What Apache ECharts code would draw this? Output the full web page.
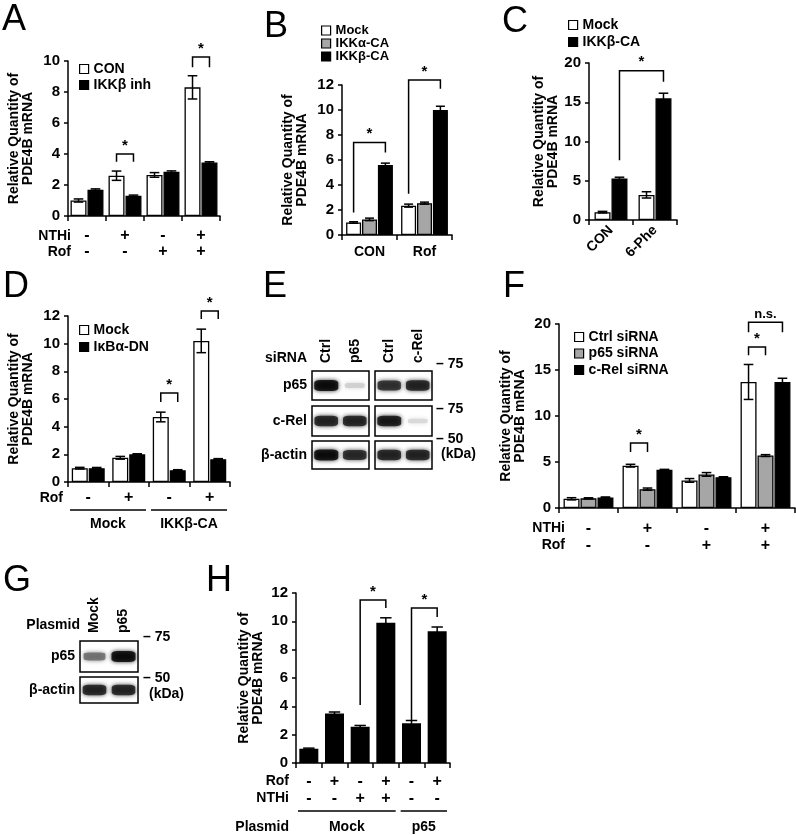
<!DOCTYPE html>
<html><head><meta charset="utf-8">
<script src="https://cdn.jsdelivr.net/npm/echarts@6/dist/echarts.min.js"></script>
<style>html,body{margin:0;padding:0;background:#fff}#c{width:796px;height:835px}</style>
</head><body><div id="c"></div>
<script>
const FONT = '"Liberation Sans", Arial, Helvetica, sans-serif';
const YNAME = 'Relative Quantity of\nPDE4B mRNA';

// ---------- Panel A ----------
const aCats = ['1', '2', '3', '4'];
const aNTHi = ['-', '+', '-', '+'];
const aRof = ['-', '-', '+', '+'];
const aTicks = [0, 2, 4, 6, 8, 10];
const aCON = [1.0, 2.6, 2.65, 8.3];
const aCONErr = [0.1, 0.3, 0.15, 0.75];
const aInh = [1.7, 1.3, 2.85, 3.45];
const aInhErr = [0.05, 0.05, 0.06, 0.05];
const aSig = [[1, 0, 1, 1, 3.5, 3.5, 4.0], [3, 0, 3, 1, 9.6, 9.6, 10.26]];
const aSigLabels = ['*', '*'];

// ---------- Panel B ----------
const bCats = ['CON', 'Rof'];
const bTicks = [0, 2, 4, 6, 8, 10, 12];
const bMock = [1.0, 2.35];
const bMockErr = [0.06, 0.12];
const bIKKa = [1.25, 2.55];
const bIKKaErr = [0.1, 0.08];
const bIKKb = [5.6, 10.0];
const bIKKbErr = [0.15, 0.3];
const bSig = [[0, 0, 0, 2, 1.8, 6.6, 7.4], [1, 0, 1, 2, 3.3, 11.7, 12.4]];
const bSigLabels = ['*', '*'];

// ---------- Panel C ----------
const cCats = ['CON', '6-Phe'];
const cTicks = [0, 5, 10, 15, 20];
const cMock = [1.0, 3.2];
const cMockErr = [0.1, 0.4];
const cIKKb = [5.3, 15.5];
const cIKKbErr = [0.15, 0.65];
const cSig = [[0, 1, 1, 1, 7.6, 17.6, 19.0]];
const cSigLabels = ['*'];

// ---------- Panel D ----------
const dCats = ['1', '2', '3', '4'];
const dRof = ['-', '+', '-', '+'];
const dTicks = [0, 2, 4, 6, 8, 10, 12];
const dMock = [1.0, 1.75, 4.7, 10.2];
const dMockErr = [0.06, 0.1, 0.35, 0.85];
const dDN = [1.0, 2.0, 0.85, 1.65];
const dDNErr = [0.05, 0.04, 0.04, 0.04];
const dGroups = [[0, 1], [2, 3]];
const dGroupLabels = ['Mock', 'IKKβ-CA'];
const dSig = [[2, 0, 2, 1, 5.78, 5.78, 6.43], [3, 0, 3, 1, 11.78, 11.78, 12.36]];
const dSigLabels = ['*', '*'];

// ---------- Panel F ----------
const fCats = ['1', '2', '3', '4'];
const fNTHi = ['-', '+', '-', '+'];
const fRof = ['-', '-', '+', '+'];
const fTicks = [0, 5, 10, 15, 20];
const fCtrl = [1.0, 4.6, 3.0, 13.7];
const fCtrlErr = [0.12, 0.15, 0.2, 1.9];
const fP65 = [1.05, 2.05, 3.65, 5.7];
const fP65Err = [0.06, 0.12, 0.2, 0.1];
const fCRel = [1.15, 4.15, 3.35, 13.7];
const fCRelErr = [0.05, 0.05, 0.05, 0.4];
const fSig = [[1, 0, 1, 1, 6.1, 6.1, 7.07], [3, 0, 3, 1, 16.6, 16.6, 17.5], [3, 0, 3, 2, 19.1, 19.1, 20.2]];
const fSigLabels = ['*', '*', 'n.s.'];

// ---------- Panel H ----------
const hCats = ['1', '2', '3', '4', '5', '6'];
const hRof = ['-', '+', '-', '+', '-', '+'];
const hNTHi = ['-', '-', '+', '+', '-', '-'];
const hTicks = [0, 2, 4, 6, 8, 10, 12];
const hVals = [1.0, 3.5, 2.55, 9.9, 2.8, 9.3];
const hErr = [0.05, 0.1, 0.1, 0.35, 0.2, 0.3];
const hGroups = [[0, 3], [4, 5]];
const hGroupLabels = ['Mock', 'p65'];
const hSig = [[2, 0, 3, 0, 4.1, 10.94, 11.5], [4, 0, 5, 0, 3.0, 10.3, 10.94]];
const hSigLabels = ['*', '*'];

// ---------- Blots ----------
const eLanes = ['Ctrl', 'p65', 'Ctrl', 'c-Rel'];
const eRows = ['p65', 'c-Rel', 'β-actin'];
const eBands = [[1.0, 0.12, 0.85, 0.9], [0.9, 0.9, 0.95, 0.08], [1.0, 0.88, 0.9, 0.9]];
const gLanes = ['Mock', 'p65'];
const gRows = ['p65', 'β-actin'];
const gBands = [[0.55, 1.0], [0.9, 0.9]];

const WHITE = '#ffffff', GRAY = '#a6a6a6', BLACK = '#000000';

const option = {
  animation: false, backgroundColor: '#fff',
  textStyle: { fontFamily: FONT },
  grid: [], xAxis: [], yAxis: [], series: [], legend: [], graphic: []
};

function boldText(size) { return { color: '#000', fontFamily: FONT, fontWeight: 'bold', fontSize: size }; }

function offFn(n, bw, gap) { return i => (i - (n - 1) / 2) * (bw + gap); }

function errRender(i, n, bw, gap) {
  const off = offFn(n, bw, gap)(i);
  return (params, api) => {
    const cat = api.value(0), v = api.value(1), e = api.value(2);
    const x = api.coord([cat, v])[0] + off;
    const yh = api.coord([cat, v + e])[1], yl = api.coord([cat, v - e])[1];
    const hw = bw * 0.3;
    const st = () => ({ stroke: '#000', lineWidth: 1.5 });
    return { type: 'group', children: [
      { type: 'line', shape: { x1: x, y1: yh, x2: x, y2: yl }, style: st() },
      { type: 'line', shape: { x1: x - hw, y1: yh, x2: x + hw, y2: yh }, style: st() },
      { type: 'line', shape: { x1: x - hw, y1: yl, x2: x + hw, y2: yl }, style: st() }
    ] };
  };
}

function sigRender(labels, n, bw, gap) {
  const off = offFn(n, bw, gap);
  return (params, api) => {
    const xL = api.coord([api.value(0), 0])[0] + off(api.value(1));
    const xR = api.coord([api.value(2), 0])[0] + off(api.value(3));
    const yL = api.coord([0, api.value(4)])[1];
    const yR = api.coord([0, api.value(5)])[1];
    const yT = api.coord([0, api.value(6)])[1];
    const lab = labels[params.dataIndex];
    return { type: 'group', children: [
      { type: 'polyline', shape: { points: [[xL, yL], [xL, yT], [xR, yT], [xR, yR]] },
        style: { stroke: '#000', lineWidth: 1.5, fill: null } },
      { type: 'text', x: (xL + xR) / 2, y: yT - 1,
        style: { text: lab, fill: '#000', font: 'bold ' + (lab === '*' ? 15 : 13) + 'px ' + FONT,
          align: 'center', verticalAlign: 'bottom', textAlign: 'center', textVerticalAlign: 'bottom' } }
    ] };
  };
}

function groupRender(labels, lineOff, textOff) {
  return (params, api) => {
    const band = api.size([1, 0])[0];
    const x1 = api.coord([api.value(0), 0])[0] - band / 2 + 2;
    const x2 = api.coord([api.value(1), 0])[0] + band / 2 - 3;
    const y0 = api.coord([0, 0])[1];
    return { type: 'group', children: [
      { type: 'line', shape: { x1: x1, y1: y0 + lineOff, x2: x2, y2: y0 + lineOff }, style: { stroke: '#000', lineWidth: 1.5 } },
      { type: 'text', x: (x1 + x2) / 2, y: y0 + textOff,
        style: { text: labels[params.dataIndex], fill: '#000', font: 'bold 14px ' + FONT,
          align: 'center', verticalAlign: 'middle', textAlign: 'center', textVerticalAlign: 'middle' } }
    ] };
  };
}

function addBarPanel(p) {
  const gi = option.grid.length;
  option.grid.push({ left: p.left, top: p.top, width: p.width, height: p.height });
  option.xAxis.push({
    type: 'category', gridIndex: gi, data: p.cats,
    axisLine: { lineStyle: { color: '#000', width: 1.5 } },
    axisTick: { show: true, length: 5, lineStyle: { color: '#000', width: 1.5 } },
    axisLabel: p.xLabel || { show: false }, splitLine: { show: false }
  });
  const t = p.ticks;
  option.yAxis.push({
    type: 'value', gridIndex: gi, min: t[0], max: t[t.length - 1], interval: t[1] - t[0],
    name: YNAME, nameLocation: 'middle', nameRotate: 90, nameGap: p.nameGap,
    nameTextStyle: Object.assign(boldText(14), { lineHeight: 14 }),
    axisLine: { show: true, lineStyle: { color: '#000', width: 1.5 } },
    axisTick: { show: true, length: 4, lineStyle: { color: '#000', width: 1.5 } },
    axisLabel: Object.assign(boldText(15), { margin: 8 }),
    splitLine: { show: false }
  });
  const n = p.series.length;
  const gapPx = p.bw * 0.06;
  p.series.forEach((s, i) => {
    option.series.push({
      type: 'bar', name: s.name, xAxisIndex: gi, yAxisIndex: gi, data: s.data,
      barWidth: p.bw, barGap: '6%', silent: true, z: 2,
      itemStyle: { color: s.color, borderColor: '#000', borderWidth: 1.3 }
    });
    option.series.push({
      type: 'custom', xAxisIndex: gi, yAxisIndex: gi, silent: true, z: 3, clip: false,
      data: s.data.map((v, k) => [k, v, s.err[k]]), renderItem: errRender(i, n, p.bw, gapPx)
    });
  });
  if (p.sig) option.series.push({
    type: 'custom', xAxisIndex: gi, yAxisIndex: gi, silent: true, z: 4, clip: false,
    data: p.sig, renderItem: sigRender(p.sigLabels, n, p.bw, gapPx)
  });
  if (p.groups) option.series.push({
    type: 'custom', xAxisIndex: gi, yAxisIndex: gi, silent: true, z: 4, clip: false,
    data: p.groups, renderItem: groupRender(p.groupLabels, p.groupLine, p.groupText)
  });
  if (p.legend) option.legend.push(Object.assign({
    orient: 'vertical', icon: 'rect', itemWidth: 9, itemHeight: 9, selectedMode: false,
    data: p.series.map(s => s.name),
    itemStyle: { borderColor: '#000', borderWidth: 1.2 },
    textStyle: boldText(14), padding: 0
  }, p.legend));
}

function rowsFormatter(rows) {
  return (v, idx) => rows.map(r => r[idx]).join('\n');
}

// A
addBarPanel({
  left: 68, top: 61, width: 152, height: 155, cats: aCats, ticks: aTicks, bw: 16, nameGap: 33,
  xLabel: Object.assign(boldText(16), { interval: 0, lineHeight: 16, margin: 12, formatter: rowsFormatter([aNTHi, aRof]) }),
  series: [
    { name: 'CON', data: aCON, err: aCONErr, color: WHITE },
    { name: 'IKKβ inh', data: aInh, err: aInhErr, color: BLACK }
  ],
  sig: aSig, sigLabels: aSigLabels,
  legend: { left: 79, top: 62, itemGap: 2 }
});
// B
addBarPanel({
  left: 342, top: 85, width: 110, height: 150, cats: bCats, ticks: bTicks, bw: 15, nameGap: 33,
  xLabel: Object.assign(boldText(14), { interval: 0, margin: 10 }),
  series: [
    { name: 'Mock', data: bMock, err: bMockErr, color: WHITE },
    { name: 'IKKα-CA', data: bIKKa, err: bIKKaErr, color: GRAY },
    { name: 'IKKβ-CA', data: bIKKb, err: bIKKbErr, color: BLACK }
  ],
  sig: bSig, sigLabels: bSigLabels,
  legend: { left: 321, top: 24, itemGap: 0, textStyle: Object.assign(boldText(13), { lineHeight: 12.5 }) }
});
// C
addBarPanel({
  left: 589, top: 63, width: 88, height: 157, cats: cCats, ticks: cTicks, bw: 16, nameGap: 27,
  xLabel: Object.assign(boldText(14), { interval: 0, rotate: 45, margin: 8 }),
  series: [
    { name: 'Mock', data: cMock, err: cMockErr, color: WHITE },
    { name: 'IKKβ-CA', data: cIKKb, err: cIKKbErr, color: BLACK }
  ],
  sig: cSig, sigLabels: cSigLabels,
  legend: { left: 568, top: 18, itemGap: 3 }
});
// D
addBarPanel({
  left: 68, top: 316, width: 162, height: 166, cats: dCats, ticks: dTicks, bw: 16, nameGap: 33,
  xLabel: Object.assign(boldText(16), { interval: 0, lineHeight: 16, margin: 8, formatter: rowsFormatter([dRof]) }),
  series: [
    { name: 'Mock', data: dMock, err: dMockErr, color: WHITE },
    { name: 'IκBα-DN', data: dDN, err: dDNErr, color: BLACK }
  ],
  sig: dSig, sigLabels: dSigLabels,
  groups: dGroups, groupLabels: dGroupLabels, groupLine: 28, groupText: 42,
  legend: { left: 79, top: 323, itemGap: 3 }
});
// F
addBarPanel({
  left: 559, top: 324, width: 236, height: 184, cats: fCats, ticks: fTicks, bw: 16, nameGap: 32,
  xLabel: Object.assign(boldText(16), { interval: 0, lineHeight: 17, margin: 12, formatter: rowsFormatter([fNTHi, fRof]) }),
  series: [
    { name: 'Ctrl siRNA', data: fCtrl, err: fCtrlErr, color: WHITE },
    { name: 'p65 siRNA', data: fP65, err: fP65Err, color: GRAY },
    { name: 'c-Rel siRNA', data: fCRel, err: fCRelErr, color: BLACK }
  ],
  sig: fSig, sigLabels: fSigLabels,
  legend: { left: 574, top: 330, itemGap: 2.5 }
});
// H
addBarPanel({
  left: 296, top: 593, width: 154, height: 170, cats: hCats, ticks: hTicks, bw: 19, nameGap: 31,
  xLabel: Object.assign(boldText(16), { interval: 0, lineHeight: 17, margin: 10, formatter: rowsFormatter([hRof, hNTHi]) }),
  series: [
    { name: 'H', data: hVals, err: hErr, color: BLACK }
  ],
  sig: hSig, sigLabels: hSigLabels,
  groups: hGroups, groupLabels: hGroupLabels, groupLine: 48, groupText: 64
});

// Blots drawn as scatter bands in framed grids
function addBlot(b) {
  const pairs = b.colLefts.length;
  b.rows.forEach((row, r) => {
    for (let c = 0; c < pairs; c++) {
      const gi = option.grid.length;
      option.grid.push({ left: b.colLefts[c], top: b.rowTops[r], width: b.colWidth, height: b.rowHeights[r],
        show: true, borderColor: '#000', borderWidth: 1.5, backgroundColor: '#fff' });
      const lanes = b.lanes.slice(c * 2, c * 2 + 2);
      option.xAxis.push({ type: 'category', gridIndex: gi, data: lanes, position: 'top',
        axisLine: { show: false }, axisTick: { show: false }, splitLine: { show: false },
        axisLabel: Object.assign(boldText(14), { show: r === 0, rotate: -90, margin: 8, interval: 0 }) });
      option.yAxis.push({ type: 'category', gridIndex: gi, data: [row],
        axisLine: { show: false }, axisTick: { show: false }, splitLine: { show: false },
        axisLabel: Object.assign(boldText(14), { show: c === 0, margin: 5 }) });
      option.series.push({
        type: 'scatter', xAxisIndex: gi, yAxisIndex: gi, silent: true, symbol: 'roundRect',
        data: lanes.map((l, k) => {
          const v = b.bands[r][c * 2 + k];
          const g = Math.round(232 * (1 - v));
          const col = 'rgb(' + g + ',' + g + ',' + g + ')';
          return { value: [k, 0], symbolSize: [19 + 5 * v, 4 + 7 * v],
            itemStyle: { color: col, shadowBlur: 4, shadowColor: col } };
        })
      });
    }
  });
}
addBlot({ lanes: eLanes, rows: eRows, bands: eBands, colLefts: [312, 375], colWidth: 57,
  rowTops: [371, 406, 441], rowHeights: [29, 30, 28] });
addBlot({ lanes: gLanes, rows: gRows, bands: gBands, colLefts: [80], colWidth: 58,
  rowTops: [641, 677], rowHeights: [31, 26] });

// Text annotations
function txt(text, x, y, align, size, weight) {
  option.graphic.push({ type: 'text', x: x, y: y, silent: true,
    style: { text: text, fill: '#000', font: (weight || 'bold') + ' ' + (size || 14) + 'px ' + FONT,
      align: align || 'left', verticalAlign: 'middle', textAlign: align || 'left', textVerticalAlign: 'middle' } });
}
// panel letters
[['A', 2, 20], ['B', 264, 27], ['C', 502, 22], ['D', 3, 287], ['E', 263, 287], ['F', 503, 287], ['G', 3, 581], ['H', 206, 581]]
  .forEach(l => txt(l[0], l[1], l[2], 'left', 36, 'normal'));
// row titles
txt('NTHi', 71, 236, 'right'); txt('Rof', 71, 252, 'right');
txt('Rof', 63, 498, 'right');
txt('NTHi', 565, 528, 'right'); txt('Rof', 565, 545, 'right');
txt('Rof', 289, 781, 'right'); txt('NTHi', 289, 798, 'right'); txt('Plasmid', 289, 827, 'right');
txt('siRNA', 307, 358, 'right');
txt('Plasmid', 80, 625, 'right');
// MW markers
txt('– 75', 436, 364); txt('– 75', 436, 409); txt('– 50', 436, 439); txt('(kDa)', 441, 454);
txt('– 75', 143, 637); txt('– 50', 143, 678); txt('(kDa)', 149, 694);

const chart = echarts.init(document.getElementById('c'), null, { renderer: 'canvas' });
chart.setOption(option);
</script>
</body></html>
